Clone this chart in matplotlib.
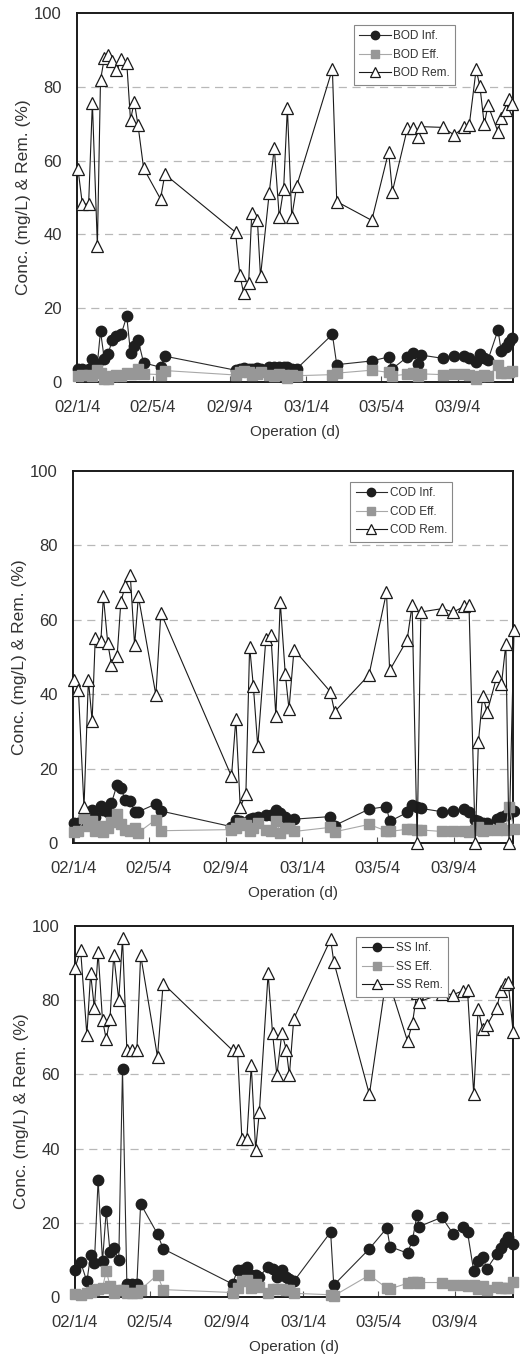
import numpy as np
import pandas as pd
import matplotlib
matplotlib.use('Agg')
import matplotlib.pyplot as plt

plt.rcParams['font.family'] = ['Liberation Sans', 'DejaVu Sans']

start_date = '2002-01-04'
tick_dates = ['2002-01-04', '2002-05-04', '2002-09-04', '2003-01-04', '2003-05-04', '2003-09-04']
tick_labels = ['02/1/4', '02/5/4', '02/9/4', '03/1/4', '03/5/4', '03/9/4']
y_ticks = [0, 20, 40, 60, 80, 100]

# ---- BOD (days since 2002-01-04) ----
bod_day = [0, 7, 17, 23, 31, 36, 42, 48, 55, 61, 69, 78, 84, 90, 96, 105, 132, 139,
           252, 259, 265, 273, 278, 287, 292, 306, 314, 322, 329, 335, 342, 350,
           407, 414, 470, 497, 503, 527, 536, 544, 549, 584, 602, 618, 626, 637, 643, 650, 656, 672, 677, 684, 690, 695]
bod_inf = [3.6, 3.6, 3.6, 6.3, 5.0, 13.8, 6.3, 7.5, 11.5, 12.6, 12.9, 17.8, 7.9, 9.7, 11.5, 5.2, 4.0, 7.0,
           3.2, 3.6, 3.8, 3.6, 3.6, 3.8, 3.6, 4.0, 4.1, 4.2, 4.2, 4.0, 3.6, 3.6,
           12.9, 4.7, 5.7, 6.8, 3.6, 6.8, 7.9, 5.0, 7.3, 6.4, 7.1, 7.1, 6.4, 5.5, 7.5, 6.4, 6.0, 14.1, 8.5, 9.5, 10.9, 12.0]
bod_eff = [1.5, 1.9, 1.9, 1.5, 3.2, 2.5, 0.8, 0.8, 1.5, 2.0, 1.6, 2.4, 2.3, 2.3, 3.5, 2.2, 2.0, 3.1,
           1.9, 2.6, 2.9, 2.6, 2.0, 2.1, 2.6, 1.9, 1.5, 2.3, 2.0, 1.0, 2.0, 1.7,
           2.0, 2.4, 3.2, 2.6, 1.7, 2.1, 2.5, 1.7, 2.2, 2.0, 2.3, 2.2, 1.9, 0.8, 1.5, 1.9, 1.5, 4.5, 2.4, 2.5, 2.6, 3.0]
bod_rem = [57.7, 48.2, 48.2, 75.7, 36.9, 81.8, 87.7, 88.7, 87.0, 84.5, 87.4, 86.5, 71.0, 76.0, 69.6, 57.9, 49.6, 56.3,
           40.6, 28.9, 24.1, 26.7, 45.8, 44.0, 28.6, 51.3, 63.5, 44.7, 52.3, 74.3, 44.7, 53.2,
           84.8, 48.9, 43.8, 62.4, 51.6, 68.7, 68.7, 66.5, 69.2, 69.0, 66.9, 69.2, 69.6, 84.7, 80.2, 69.8, 75.0, 67.8, 71.6, 73.7, 76.6, 75.3]

# ---- COD ----
cod_day = [0, 7, 16, 23, 29, 34, 43, 47, 54, 60, 69, 75, 82, 90, 97, 103, 131, 139,
           252, 259, 266, 275, 281, 287, 294, 307, 315, 323, 330, 338, 344, 352,
           410, 417, 472, 500, 505, 533, 541, 549, 555, 589, 607, 624, 632, 642, 647, 654, 661, 677, 684, 691, 696, 704]
cod_inf = [5.3, 5.3, 7.3, 8.0, 8.9, 7.1, 10.0, 8.9, 8.4, 10.8, 15.7, 14.7, 11.6, 11.4, 8.4, 8.4, 10.5, 8.6,
           4.4, 6.2, 6.0, 5.5, 6.5, 6.7, 7.1, 7.6, 7.5, 8.9, 8.0, 7.1, 6.2, 6.4,
           7.1, 4.7, 9.1, 9.8, 5.8, 8.2, 10.2, 9.8, 9.3, 8.4, 8.6, 9.2, 8.3, 6.2, 5.9, 5.5, 5.3, 6.5, 7.1, 7.5, 8.0, 8.6]
cod_eff = [3.0, 3.1, 6.6, 4.5, 6.0, 3.2, 4.6, 3.0, 3.9, 5.6, 7.8, 5.2, 3.6, 3.2, 3.9, 2.8, 6.3, 3.3,
           3.6, 4.1, 5.4, 4.8, 3.1, 3.9, 5.3, 3.4, 3.3, 5.9, 2.8, 3.9, 4.0, 3.1,
           4.2, 3.0, 5.0, 3.2, 3.1, 3.7, 3.7, 3.6, 3.5, 3.1, 3.3, 3.3, 3.0, 3.6, 4.3, 3.3, 3.4, 3.6, 4.1, 3.5, 9.8, 3.7]
cod_rem = [43.7, 41.2, 9.6, 43.9, 32.9, 55.1, 54.2, 66.3, 53.7, 47.9, 50.2, 64.9, 69.1, 72.1, 53.1, 66.3, 39.8, 61.9,
           17.9, 33.4, 9.6, 13.2, 52.8, 42.1, 26.0, 54.9, 56.0, 34.1, 64.8, 45.5, 36.0, 52.0,
           40.7, 35.3, 45.2, 67.4, 46.4, 54.6, 64.0, 0.0, 62.1, 63.0, 62.1, 63.6, 63.9, 0.0, 27.1, 39.6, 35.2, 45.0, 42.8, 53.5, 0.0, 57.3]

# ---- SS ----
ss_day = [0, 9, 19, 25, 31, 37, 44, 50, 56, 62, 70, 76, 83, 91, 99, 105, 132, 141,
          252, 260, 267, 275, 282, 289, 295, 309, 316, 323, 331, 338, 343, 350,
          409, 414, 471, 499, 504, 532, 540, 547, 551, 587, 605, 620, 628, 638, 645, 652, 659, 675, 681, 688, 693, 701]
ss_inf = [7.3, 9.4, 4.2, 11.3, 9.2, 31.6, 9.6, 23.3, 12.1, 13.1, 10.0, 61.4, 3.5, 3.5, 3.5, 25.1, 17.0, 13.0,
          3.5, 7.3, 7.3, 8.2, 6.0, 6.0, 5.5, 8.2, 7.5, 5.3, 7.3, 5.3, 4.9, 4.2,
          17.5, 3.2, 13.0, 18.6, 13.6, 11.8, 15.4, 22.0, 19.0, 21.5, 17.0, 18.8, 17.5, 6.9, 9.6, 10.9, 7.6, 11.6, 13.2, 14.8, 16.1, 14.3]
ss_eff = [0.8, 0.6, 1.2, 1.4, 2.0, 2.2, 2.4, 7.1, 3.0, 1.0, 2.0, 2.0, 1.2, 1.2, 1.2, 2.0, 6.0, 2.0,
          1.2, 2.4, 4.2, 4.7, 2.3, 3.6, 2.8, 1.0, 2.2, 2.1, 2.1, 1.8, 2.0, 1.0,
          0.6, 0.3, 5.9, 2.4, 2.2, 3.7, 4.0, 4.0, 3.9, 3.9, 3.1, 3.3, 3.0, 3.1, 2.1, 3.0, 2.0, 2.6, 2.3, 2.3, 2.4, 4.1]
ss_rem = [88.7, 93.5, 70.6, 87.2, 77.8, 93.0, 74.6, 69.5, 75.0, 92.3, 80.0, 96.7, 66.5, 66.5, 66.5, 92.2, 64.7, 84.5,
          66.5, 66.5, 42.7, 42.7, 62.5, 39.7, 50.0, 87.2, 71.2, 59.8, 71.2, 66.7, 59.8, 75.0,
          96.4, 90.4, 54.6, 87.0, 84.0, 69.0, 73.9, 82.0, 79.6, 81.8, 81.5, 82.5, 82.7, 54.6, 77.7, 72.3, 73.2, 78.0, 82.5, 84.5, 85.0, 71.4]

W, H = 520, 1356
fig = plt.figure(figsize=(W / 100, H / 100), dpi=100)
fig.patch.set_facecolor('white')

t0 = pd.Timestamp(start_date)


def to_dates(days):
    return t0 + pd.to_timedelta(np.asarray(days, dtype=float), unit='D')


# (left, right, top, bottom) in pixels, x-limits in days, legend anchor
panels = [
    ('BOD', bod_day, bod_inf, bod_eff, bod_rem, (77, 513, 13, 382), (-1.6, 696.0), (0.635, 0.967)),
    ('COD', cod_day, cod_inf, cod_eff, cod_rem, (73, 513, 471, 843), (-1.6, 702.4), (0.630, 0.970)),
    ('SS', ss_day, ss_inf, ss_eff, ss_rem, (75, 513, 926, 1297), (0.0, 700.8), (0.642, 0.970)),
]

txt_color = '#333333'
for name, day, inf, eff, rem, (l, r, t, b), (x0, x1), lg in panels:
    ax = fig.add_axes([l / W, 1 - b / H, (r - l) / W, (b - t) / H])
    d = to_dates(day)
    ax.plot(d, inf, '-', color='#2a2a2a', lw=0.8, marker='o', ms=7.5,
            mfc='#1e1e1e', mec='#1e1e1e', label=f'{name} Inf.', clip_on=False, zorder=3)
    ax.plot(d, eff, '-', color='#a8a8a8', lw=0.8, marker='s', ms=6.7,
            mfc='#979797', mec='#979797', label=f'{name} Eff.', clip_on=False, zorder=3)
    ax.plot(d, rem, '-', color='#1a1a1a', lw=0.8, marker='^', ms=8.7,
            mfc='white', mec='#1a1a1a', mew=0.9, label=f'{name} Rem.', clip_on=False, zorder=4)

    ax.set_xlim(t0 + pd.Timedelta(days=x0), t0 + pd.Timedelta(days=x1))
    ax.set_ylim(0, 100)
    ax.set_yticks(y_ticks)
    ax.set_xticks(pd.to_datetime(tick_dates))
    ax.set_xticklabels(tick_labels)
    for gy in [20, 40, 60, 80]:
        ax.axhline(gy, color='#b8b8b8', lw=0.9, ls=(0, (6.5, 4.5)), zorder=1)
    for s in ax.spines.values():
        s.set_linewidth(1.4)
        s.set_color('#1a1a1a')
    ax.tick_params(axis='x', direction='in', length=4, width=0.8, pad=13,
                   labelsize=12, labelcolor=txt_color, color='#555555')
    ax.tick_params(axis='y', length=0, pad=11, labelsize=12, labelcolor=txt_color)
    ax.set_xlabel('Operation (d)', fontsize=11, color=txt_color, labelpad=7)
    ax.set_ylabel('Conc. (mg/L) & Rem. (%)', fontsize=12.5, color=txt_color)
    ax.yaxis.set_label_coords(-0.105, 0.5)

    leg = ax.legend(loc='upper left', bbox_to_anchor=lg, borderaxespad=0,
                    fontsize=8.5, frameon=True, fancybox=False, framealpha=1,
                    edgecolor='#888888', handlelength=2.7, handletextpad=0.2,
                    labelspacing=0.55, borderpad=0.45, markerscale=0.8)
    leg.get_frame().set_linewidth(0.8)
    leg.set_zorder(10)
    for txt in leg.get_texts():
        txt.set_color(txt_color)

fig.savefig('out.png', dpi=100, facecolor='white')
